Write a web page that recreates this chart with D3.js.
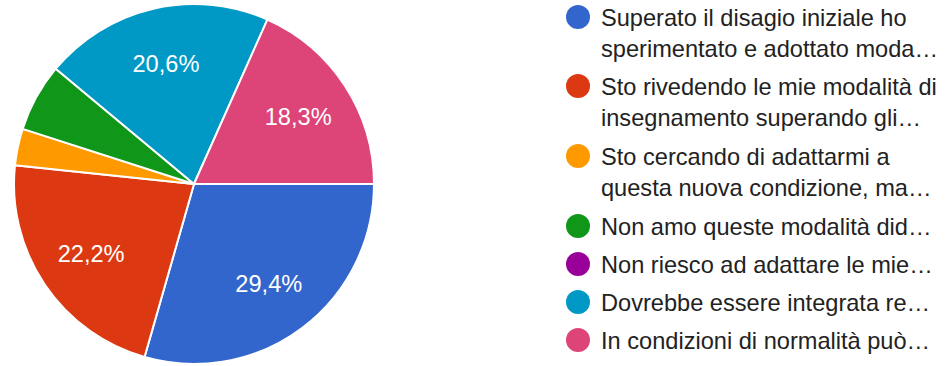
<!DOCTYPE html>
<html>
<head>
<meta charset="utf-8">
<script src="https://cdn.jsdelivr.net/npm/d3@7"></script>
<style>
  html, body { margin: 0; padding: 0; background: #fff; }
  svg { display: block; font-family: "Liberation Sans", Arial, sans-serif; }
</style>
</head>
<body>
<svg id="chart" width="948" height="366"></svg>
<script>
// Answer options (as shown in the legend, one entry per line of text)
const categories = [
  ["Superato il disagio iniziale ho", "sperimentato e adottato moda…"],
  ["Sto rivedendo le mie modalità di", "insegnamento superando gli…"],
  ["Sto cercando di adattarmi a", "questa nuova condizione, ma…"],
  ["Non amo queste modalità did…"],
  ["Non riesco ad adattare le mie…"],
  ["Dovrebbe essere integrata re…"],
  ["In condizioni di normalità può…"]
];
// Share of responses, percent
const values = [29.4, 22.2, 3.3, 6.1, 0, 20.6, 18.3];
const colors = ["#3366cc", "#dc3912", "#ff9900", "#109618", "#990099", "#0099c6", "#dd4477"];

const svg = d3.select("#chart");
const cx = 194, cy = 184, r = 180;

const data = values.map((v, i) => ({ value: v, index: i }));

const pie = d3.pie()
  .sort(null)
  .value(d => d.value)
  .startAngle(Math.PI / 2)
  .endAngle(Math.PI / 2 + 2 * Math.PI);

const arc = d3.arc().innerRadius(0).outerRadius(r);
const labelArc = d3.arc().innerRadius(r * 0.69).outerRadius(r * 0.69);

const g = svg.append("g").attr("transform", `translate(${cx},${cy})`);
const arcs = pie(data);

g.selectAll("path.slice")
  .data(arcs.filter(d => d.data.value > 0))
  .join("path")
  .attr("class", "slice")
  .attr("d", arc)
  .attr("fill", d => colors[d.data.index])
  .attr("stroke", "#fff")
  .attr("stroke-width", 2)
  .attr("stroke-linejoin", "round");

const fmt = v => v.toFixed(1).replace(".", ",") + "%";

g.selectAll("text.pct")
  .data(arcs.filter(d => d.data.value >= 10))
  .join("text")
  .attr("class", "pct")
  .attr("transform", d => `translate(${labelArc.centroid(d)})`)
  .attr("text-anchor", "middle")
  .attr("dy", "0.36em")
  .attr("fill", "#fff")
  .style("font-size", "23.6px")
  .text(d => fmt(d.data.value));

// Legend
const legendX = 578;
const rowCenters = [17, 86, 156, 226, 264, 302, 340];
const lineGap = 32;

const legend = svg.append("g");
categories.forEach((lines, i) => {
  const row = legend.append("g").attr("transform", `translate(${legendX},${rowCenters[i]})`);
  row.append("circle").attr("r", 12).attr("fill", colors[i]);
  const t = row.append("text")
    .attr("fill", "#222")
    .style("font-size", "23.6px");
  lines.forEach((line, j) => {
    t.append("tspan")
      .attr("x", 23)
      .attr("y", j * lineGap)
      .attr("dy", "0.36em")
      .text(line);
  });
});
</script>
</body>
</html>
